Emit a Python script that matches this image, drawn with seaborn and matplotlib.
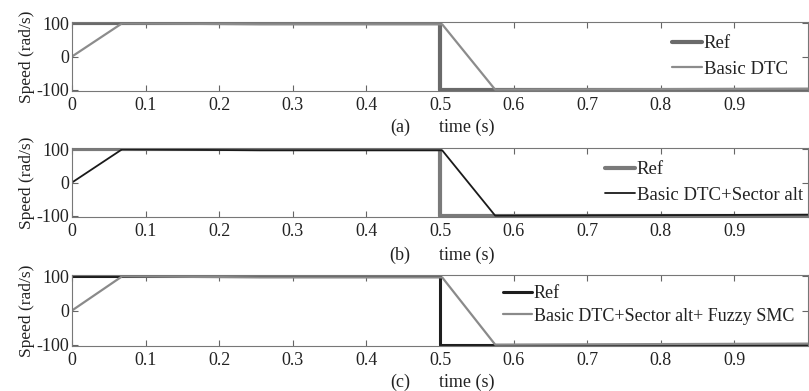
import matplotlib
matplotlib.use("Agg")
import matplotlib.pyplot as plt
import numpy as np
import pandas as pd
import seaborn as sns

# ---- data ----
time_ref = [0.0, 0.5, 0.5, 1.0]
speed_ref = [100, 100, -100, -100]
time_sim = [0.0, 0.068, 0.255, 0.503, 0.575, 1.0]
speed_sim = [0, 100, 97, 97, -100, -97]

panel_tags = ["(a)", "(b)", "(c)"]
sim_labels = ["Basic DTC", "Basic DTC+Sector alt", "Basic DTC+Sector alt+ Fuzzy SMC"]
ref_label = "Ref"
x_ticks = [0, 0.1, 0.2, 0.3, 0.4, 0.5, 0.6, 0.7, 0.8, 0.9]
x_tick_labels = ["0", "0.1", "0.2", "0.3", "0.4", "0.5", "0.6", "0.7", "0.8", "0.9"]
y_ticks = [-100, 0, 100]
y_tick_labels = ["-100", "0", "100"]

# ---- style ----
sns.set_style("white")
plt.rcParams["font.family"] = ["Liberation Serif", "DejaVu Serif"]
plt.rcParams["axes.unicode_minus"] = False

W, H = 809, 391
fig = plt.figure(figsize=(W / 100, H / 100), dpi=100)

# panel pixel boxes: (top, bottom)
boxes = [(22, 91), (148, 217), (275, 346)]
left_px, right_px = 72, 808
ref_styles = [dict(color="#6a6a6a", lw=3.0), dict(color="#7a7a7a", lw=3.0), dict(color="#1e1e1e", lw=2.2)]
sim_styles = [dict(color="#8c8c8c", lw=1.6), dict(color="#1a1a1a", lw=1.3), dict(color="#8a8a8a", lw=1.6)]
leg_x = [(672 - 72) / 736, (605 - 72) / 736, (503 - 72) / 736]
leg_y = [0.50, 0.50, 0.58]
leg_fs = [13.5, 13.5, 13.0]
leg_sp = [0.45, 0.45, 0.3]
label_y = [127, 255, 382]

ref_df = pd.DataFrame({"t": time_ref, "v": speed_ref})
sim_df = pd.DataFrame({"t": time_sim, "v": speed_sim})

for i, (top, bot) in enumerate(boxes):
    ax = fig.add_axes([left_px / W, 1 - bot / H, (right_px - left_px) / W, (bot - top) / H])
    sns.lineplot(data=ref_df, x="t", y="v", estimator=None, sort=False, ax=ax,
                 label=ref_label, **ref_styles[i])
    sns.lineplot(data=sim_df, x="t", y="v", estimator=None, sort=False, ax=ax,
                 label=sim_labels[i], **sim_styles[i])
    ax.set_xlim(0, 1.0)
    ax.set_ylim(-104, 104)
    ax.set_xticks(x_ticks)
    ax.set_xticklabels(x_tick_labels)
    ax.set_yticks(y_ticks)
    ax.set_yticklabels(y_tick_labels)
    ax.tick_params(direction="in", length=4, width=0.8, color="#666666",
                   top=True, right=True, bottom=True, left=True, labelsize=13,
                   labelcolor="#222222")
    ax.tick_params(axis="x", pad=4)
    ax.tick_params(axis="y", pad=2)
    for s in ax.spines.values():
        s.set_color("#777777")
        s.set_linewidth(0.8)
    ax.set_xlabel("")
    ax.set_ylabel("Speed (rad/s)", fontsize=12.5, color="#222222", labelpad=1)
    leg = ax.legend(loc="center left", bbox_to_anchor=(leg_x[i], leg_y[i]), frameon=False,
                    fontsize=leg_fs[i], handlelength=1.6, handletextpad=0.1,
                    labelspacing=leg_sp[i], borderpad=0, borderaxespad=0)
    for t in leg.get_texts():
        t.set_color("#222222")
    fig.text(400 / W, 1 - label_y[i] / H, panel_tags[i], ha="center", va="center",
             fontsize=13, color="#222222")
    fig.text(467 / W, 1 - label_y[i] / H, "time (s)", ha="center", va="center",
             fontsize=13, color="#222222")

fig.savefig("out.png", dpi=100)
